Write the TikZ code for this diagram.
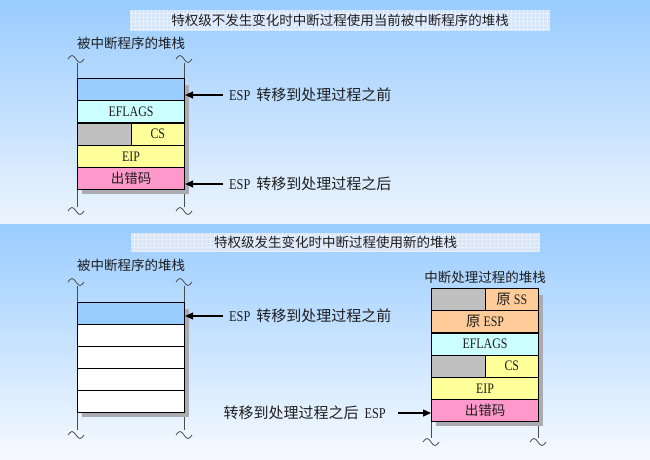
\documentclass[tikz,border=0pt]{standalone}
\usepackage{fontspec}
\newfontfamily\cjk{Noto Sans CJK SC}
\newfontfamily\lat[FakeStretch=0.82]{Liberation Serif}
\usetikzlibrary{arrows.meta}
\definecolor{bgblue}{RGB}{153,204,255}
\definecolor{bgpale}{RGB}{236,244,253}
\definecolor{bgwhite}{RGB}{246,250,255}
\definecolor{cellblue}{RGB}{153,204,255}
\definecolor{cellcyan}{RGB}{204,255,255}
\definecolor{cellgray}{RGB}{192,192,192}
\definecolor{cellyellow}{RGB}{255,255,153}
\definecolor{cellpink}{RGB}{255,153,204}
\definecolor{cellorange}{RGB}{255,204,153}
\definecolor{shadowgray}{RGB}{170,172,178}
\definecolor{titlefill}{RGB}{214,229,250}
\definecolor{txt}{RGB}{30,30,30}
\begin{document}
\begin{tikzpicture}[x=1pt,y=-1pt,
  cell/.style={draw=black, line width=1.1pt, minimum height=22.2pt, inner sep=0pt,
    anchor=north west, font=\lat\fontsize{14.5}{16}\selectfont, text=txt},
  full/.style={cell, minimum width=107pt},
  half/.style={cell, minimum width=53.5pt},
  cn/.style={font=\cjk\fontsize{13.5}{16}\selectfont},
  lbl/.style={font=\cjk\fontsize{13.5}{16}\selectfont, inner sep=0pt, text=txt},
  esplbl/.style={font=\cjk\fontsize{15}{17}\selectfont, inner sep=0pt, text=txt},
  titlebox/.style={fill=titlefill, inner sep=0pt, text=txt,
    font=\cjk\fontsize{13.5}{16}\selectfont,
    path picture={\draw[white, opacity=0.45, line width=0.5pt, step=4pt]
      (path picture bounding box.south west) grid (path picture bounding box.north east);}},
  arr/.style={-{Triangle[length=8pt,width=7pt]}, line width=1.2pt, black},
  guide/.style={draw=black!70, line width=0.8pt},
  shadow/.style={fill=shadowgray},
  wave/.pic={\draw[guide] (-8,0) sin (-4,-3.5) cos (0,0) sin (4,3.5) cos (8,0);}
]
\useasboundingbox (0,0) rectangle (650,459);
% backgrounds
\shade[top color=bgblue, bottom color=bgpale] (0,0) rectangle (650,224);
\shade[top color=bgblue, bottom color=bgwhite] (0,224) rectangle (650,459);

% ================= top panel =================
\node[titlebox, minimum width=420pt, minimum height=21pt] (t1) at (340,20.5)
  {特权级不发生变化时中断过程使用当前被中断程序的堆栈};
\node[lbl] (l1) at (131,43) {被中断程序的堆栈};
\draw[guide] (77,63) -- (77,207);
\draw[guide] (184,63) -- (184,207);
\pic at (76,59) {wave};
\pic at (184,59) {wave};
\pic at (76,211) {wave};
\pic at (184,211) {wave};
\fill[shadow] (184,85) rectangle (188.5,193.5);
\fill[shadow] (82,189) rectangle (188.5,193.5);
\node[full, fill=cellblue] (a1) at (77,78) {};
\node[full, fill=cellcyan] (a2) at (77,100.2) {EFLAGS};
\node[half, fill=cellgray] (a3g) at (77,122.4) {};
\node[half, fill=cellyellow] (a3) at (130.5,122.4) {CS};
\node[full, fill=cellyellow] (a4) at (77,144.6) {EIP};
\node[full, fill=cellpink, cn] (a5) at (77,166.8) {出错码};
\node[esplbl, anchor=west] (e1) at (229,95) {{\lat ESP}\hspace{6pt}转移到处理过程之前};
\node[esplbl, anchor=west] (e2) at (229,184) {{\lat ESP}\hspace{6pt}转移到处理过程之后};
\coordinate (p1) at (223,95);
\coordinate (p2) at (223,184);
\draw[arr] (p1) -- (p1 -| a1.east);
\draw[arr] (p2) -- (p2 -| a5.east);

% ================= bottom panel =================
\node[titlebox, minimum width=409pt, minimum height=19pt] (t2) at (335.5,242.5)
  {特权级发生变化时中断过程使用新的堆栈};
\node[lbl] (l2) at (131,265) {被中断程序的堆栈};
\draw[guide] (77,286) -- (77,430);
\draw[guide] (184,286) -- (184,430);
\pic at (76,282) {wave};
\pic at (184,282) {wave};
\pic at (76,435) {wave};
\pic at (184,435) {wave};
\fill[shadow] (184,309) rectangle (188.5,416.5);
\fill[shadow] (82,412) rectangle (188.5,416.5);
\node[full, fill=cellblue] (b1) at (77,302) {};
\node[full, fill=white] (b2) at (77,324) {};
\node[full, fill=white] (b3) at (77,346) {};
\node[full, fill=white] (b4) at (77,368) {};
\node[full, fill=white] (b5) at (77,390) {};
\node[esplbl, anchor=west] (e3) at (229,316) {{\lat ESP}\hspace{6pt}转移到处理过程之前};
\coordinate (p3) at (223,316);
\draw[arr] (p3) -- (p3 -| b1.east);

% right stack
\node[lbl] (l3) at (485,277) {中断处理过程的堆栈};
\draw[guide] (431,421) -- (431,438);
\draw[guide] (538,421) -- (538,438);
\pic at (431,442) {wave};
\pic at (538,442) {wave};
\fill[shadow] (538,295) rectangle (542.5,425.5);
\fill[shadow] (436,421) rectangle (542.5,425.5);
\node[half, fill=cellgray] (s1g) at (431,288) {};
\node[half, fill=cellorange] (s1) at (484.5,288) {{\cjk 原} SS};
\node[full, fill=cellorange] (s2) at (431,310.2) {{\cjk 原} ESP};
\node[full, fill=cellcyan] (s3) at (431,332.4) {EFLAGS};
\node[half, fill=cellgray] (s4g) at (431,354.6) {};
\node[half, fill=cellyellow] (s4) at (484.5,354.6) {CS};
\node[full, fill=cellyellow] (s5) at (431,376.8) {EIP};
\node[full, fill=cellpink, cn] (s6) at (431,399) {出错码};
\node[esplbl, anchor=east] (e4) at (386,413) {转移到处理过程之后\hspace{6pt}{\lat ESP}};
\coordinate (p4) at (398,413);
\draw[arr] (p4) -- (p4 -| s6.west);
\end{tikzpicture}
\end{document}
